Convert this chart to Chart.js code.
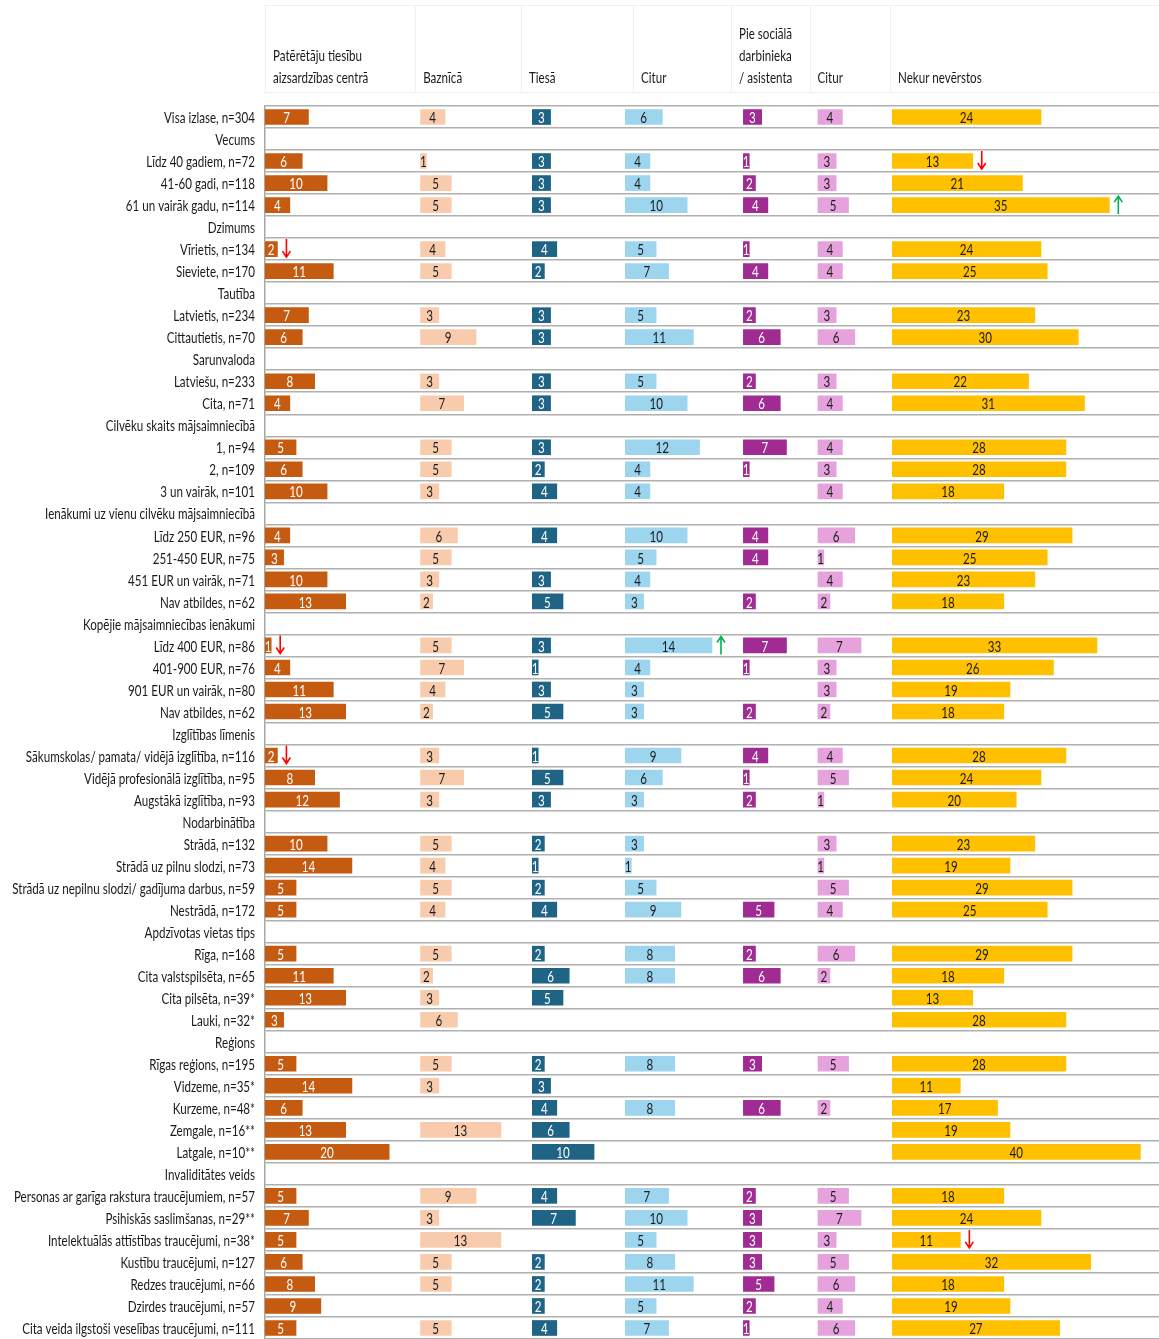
<!DOCTYPE html>
<html>
<head>
<meta charset="utf-8">
<script src="https://cdn.jsdelivr.net/npm/chart.js@4.4.1/dist/chart.umd.min.js"></script>
<style>
  html, body { margin: 0; padding: 0; background: #fff; }
</style>
</head>
<body>
<canvas id="chart" width="1159" height="1339"></canvas>
<script>
// row labels (group headings have no values)
const rows = [
  "Visa izlase, n=304",
  "Vecums",
  "Līdz 40 gadiem, n=72",
  "41-60 gadi, n=118",
  "61 un vairāk gadu, n=114",
  "Dzimums",
  "Vīrietis, n=134",
  "Sieviete, n=170",
  "Tautība",
  "Latvietis, n=234",
  "Cittautietis, n=70",
  "Sarunvaloda",
  "Latviešu, n=233",
  "Cita, n=71",
  "Cilvēku skaits mājsaimniecībā",
  "1, n=94",
  "2, n=109",
  "3 un vairāk, n=101",
  "Ienākumi uz vienu cilvēku mājsaimniecībā",
  "Līdz 250 EUR, n=96",
  "251-450 EUR, n=75",
  "451 EUR un vairāk, n=71",
  "Nav atbildes, n=62",
  "Kopējie mājsaimniecības ienākumi",
  "Līdz 400 EUR, n=86",
  "401-900 EUR, n=76",
  "901 EUR un vairāk, n=80",
  "Nav atbildes, n=62",
  "Izglītības līmenis",
  "Sākumskolas/ pamata/ vidējā izglītība, n=116",
  "Vidējā profesionālā izglītība, n=95",
  "Augstākā izglītība, n=93",
  "Nodarbinātība",
  "Strādā, n=132",
  "Strādā uz pilnu slodzi, n=73",
  "Strādā uz nepilnu slodzi/ gadījuma darbus, n=59",
  "Nestrādā, n=172",
  "Apdzīvotas vietas tips",
  "Rīga, n=168",
  "Cita valstspilsēta, n=65",
  "Cita pilsēta, n=39*",
  "Lauki, n=32*",
  "Reģions",
  "Rīgas reģions, n=195",
  "Vidzeme, n=35*",
  "Kurzeme, n=48*",
  "Zemgale, n=16**",
  "Latgale, n=10**",
  "Invaliditātes veids",
  "Personas ar garīga rakstura traucējumiem, n=57",
  "Psihiskās saslimšanas, n=29**",
  "Intelektuālās attīstības traucējumi, n=38*",
  "Kustību traucējumi, n=127",
  "Redzes traucējumi, n=66",
  "Dzirdes traucējumi, n=57",
  "Cita veida ilgstoši veselības traucējumi, n=111"
];

const headers = [
  ["Patērētāju tiesību", "aizsardzības centrā"],
  ["Baznīcā"],
  ["Tiesā"],
  ["Citur"],
  ["Pie sociālā", "darbinieka", "/ asistenta"],
  ["Citur"],
  ["Nekur nevērstos"]
];

const consumerCentre = [7, null, 6, 10, 4, null, 2, 11, null, 7, 6, null, 8, 4, null, 5, 6, 10, null, 4, 3, 10, 13, null, 1, 4, 11, 13, null, 2, 8, 12, null, 10, 14, 5, 5, null, 5, 11, 13, 3, null, 5, 14, 6, 13, 20, null, 5, 7, 5, 6, 8, 9, 5];
const church = [4, null, 1, 5, 5, null, 4, 5, null, 3, 9, null, 3, 7, null, 5, 5, 3, null, 6, 5, 3, 2, null, 5, 7, 4, 2, null, 3, 7, 3, null, 5, 4, 5, 4, null, 5, 2, 3, 6, null, 5, 3, null, 13, null, null, 9, 3, 13, 5, 5, null, 5];
const court = [3, null, 3, 3, 3, null, 4, 2, null, 3, 3, null, 3, 3, null, 3, 2, 4, null, 4, null, 3, 5, null, 3, 1, 3, 5, null, 1, 5, 3, null, 2, 1, 2, 4, null, 2, 6, 5, null, null, 2, 3, 4, 6, 10, null, 4, 7, null, 2, 2, 2, 4];
const elsewhere = [6, null, 4, 4, 10, null, 5, 7, null, 5, 11, null, 5, 10, null, 12, 4, 4, null, 10, 5, 4, 3, null, 14, 4, 3, 3, null, 9, 6, 3, null, 3, 1, 5, 9, null, 8, 8, null, null, null, 8, null, 8, null, null, null, 7, 10, 5, 8, 11, 5, 7];
const socialWorker = [3, null, 1, 2, 4, null, 1, 4, null, 2, 6, null, 2, 6, null, 7, 1, null, null, 4, 4, null, 2, null, 7, 1, null, 2, null, 4, 1, 2, null, null, null, null, 5, null, 2, 6, null, null, null, 3, null, 6, null, null, null, 2, 3, 3, 3, 5, 2, 1];
const elsewhereOther = [4, null, 3, 3, 5, null, 4, 4, null, 3, 6, null, 3, 4, null, 4, 3, 4, null, 6, 1, 4, 2, null, 7, 3, 3, 2, null, 4, 5, 1, null, 3, 1, 5, 4, null, 6, 2, null, null, null, 5, null, 2, null, null, null, 5, 7, 3, 5, 6, 4, 6];
const nowhere = [24, null, 13, 21, 35, null, 24, 25, null, 23, 30, null, 22, 31, null, 28, 28, 18, null, 29, 25, 23, 18, null, 33, 26, 19, 18, null, 28, 24, 20, null, 23, 19, 29, 25, null, 29, 18, 13, 28, null, 28, 11, 17, 19, 40, null, 18, 24, 11, 32, 18, 19, 27];

// significant differences: row label, column index, direction
const arrows = [
  { row: "Līdz 40 gadiem, n=72", col: 6, dir: "down" },
  { row: "61 un vairāk gadu, n=114", col: 6, dir: "up" },
  { row: "Vīrietis, n=134", col: 0, dir: "down" },
  { row: "Līdz 400 EUR, n=86", col: 0, dir: "down" },
  { row: "Līdz 400 EUR, n=86", col: 3, dir: "up" },
  { row: "Sākumskolas/ pamata/ vidējā izglītība, n=116", col: 0, dir: "down" },
  { row: "Intelektuālās attīstības traucējumi, n=38*", col: 6, dir: "down" }
];

const series = [consumerCentre, church, court, elsewhere, socialWorker, elsewhereOther, nowhere];
const barColors = ["#C55A11", "#F8CBAD", "#1F6485", "#9DD5EF", "#A02B93", "#E6A2DD", "#FFC000"];
const labelColors = ["#ffffff", "#1a1a1a", "#ffffff", "#1a1a1a", "#ffffff", "#1a1a1a", "#1a1a1a"];
const colRange = [25, 18, 15, 19, 12, 12, 43]; // width of each panel in value units
const headerNudge = [8, 3, -3, 16, -4, 0, 6];

// the original uses a narrow Calibri; squeeze a humanist sans horizontally to match
const TEXT_FONT = "16px Lato, 'Open Sans', sans-serif";
let squeeze = 0.78;

function squeezedText(ctx, text, x, y, align) {
  ctx.save();
  ctx.translate(x, y);
  ctx.scale(squeeze, 1);
  ctx.textAlign = align;
  ctx.fillText(text, 0, 0);
  ctx.restore();
}

const rowLabels = {
  id: "rowLabels",
  afterDraw(chart) {
    const ctx = chart.ctx;
    const y = chart.scales.y;
    ctx.save();
    ctx.font = TEXT_FONT;
    squeeze = 91 / ctx.measureText("Visa izlase, n=304").width;
    ctx.fillStyle = "#1a1a1a";
    ctx.textBaseline = "middle";
    rows.forEach((r, i) => squeezedText(ctx, r, y.right - 10, y.getPixelForValue(i) + 1, "right"));
    ctx.restore();
  }
};

const valueLabels = {
  id: "valueLabels",
  afterDraw(chart) {
    const ctx = chart.ctx;
    ctx.save();
    ctx.font = TEXT_FONT;
    ctx.textBaseline = "middle";
    chart.data.datasets.forEach((ds, i) => {
      chart.getDatasetMeta(i).data.forEach((bar, j) => {
        if (ds.data[j] == null) return;
        ctx.fillStyle = labelColors[i];
        squeezedText(ctx, String(ds.data[j]), (bar.x + bar.base) / 2, bar.y + 1, "center");
      });
    });
    ctx.restore();
  }
};

const sigArrows = {
  id: "sigArrows",
  afterDraw(chart) {
    const ctx = chart.ctx;
    ctx.save();
    ctx.lineWidth = 1.6;
    arrows.forEach(a => {
      const bar = chart.getDatasetMeta(a.col).data[rows.indexOf(a.row)];
      const x = bar.x + 9;
      const y = bar.y;
      const up = a.dir === "up";
      const tip = up ? y - 9 : y + 8;
      const tail = up ? y + 9 : y - 10;
      ctx.strokeStyle = up ? "#00B050" : "#FF0000";
      ctx.beginPath();
      ctx.moveTo(x, tail);
      ctx.lineTo(x, tip);
      ctx.moveTo(x - 4, up ? tip + 6 : tip - 6);
      ctx.lineTo(x, tip);
      ctx.lineTo(x + 4, up ? tip + 6 : tip - 6);
      ctx.stroke();
    });
    ctx.restore();
  }
};

const headerCells = {
  id: "headerCells",
  afterDraw(chart) {
    const ctx = chart.ctx;
    ctx.save();
    ctx.strokeStyle = "#f0f0f0";
    ctx.lineWidth = 1;
    ctx.beginPath();
    ctx.moveTo(264, 5.5); ctx.lineTo(1159, 5.5);
    ctx.moveTo(264, 92.5); ctx.lineTo(1159, 92.5);
    headers.forEach((h, i) => {
      const left = Math.round(chart.scales["x" + i].left + headerNudge[i] - 8) + 0.5;
      ctx.moveTo(left, 5); ctx.lineTo(left, 93);
    });
    ctx.stroke();
    ctx.font = TEXT_FONT;
    ctx.fillStyle = "#1a1a1a";
    ctx.textBaseline = "middle";
    headers.forEach((h, i) => {
      const x = chart.scales["x" + i].left + headerNudge[i];
      h.forEach((line, k) => squeezedText(ctx, line, x, 78 - (h.length - 1 - k) * 22, "left"));
    });
    ctx.restore();
  }
};

const scales = {
  y: {
    type: "category",
    offset: true,
    grid: { offset: true, color: "#b0b0b0", lineWidth: 1.5, drawTicks: false },
    border: { display: true, color: "#a6a6a6", width: 1.5 },
    ticks: { display: false },
    afterFit(scale) { scale.width = 265; }
  }
};
series.forEach((s, i) => {
  scales["x" + i] = {
    type: "linear",
    position: "bottom",
    stack: "panels",
    stackWeight: colRange[i],
    min: 0,
    max: colRange[i],
    grid: { display: false, drawTicks: false },
    border: { display: false },
    ticks: { display: false }
  };
});

new Chart(document.getElementById("chart"), {
  type: "bar",
  data: {
    labels: rows,
    datasets: series.map((s, i) => ({
      label: headers[i].join(" "),
      data: s,
      xAxisID: "x" + i,
      yAxisID: "y",
      backgroundColor: barColors[i],
      grouped: false,
      barThickness: 15
    }))
  },
  options: {
    indexAxis: "y",
    responsive: false,
    animation: false,
    devicePixelRatio: 1,
    // last row is cut by the page edge in the original
    layout: { padding: { top: 106, left: 0, right: 0, bottom: -3 } },
    plugins: { legend: { display: false }, tooltip: { enabled: false } },
    scales: scales
  },
  plugins: [rowLabels, valueLabels, sigArrows, headerCells]
});
</script>
</body>
</html>
